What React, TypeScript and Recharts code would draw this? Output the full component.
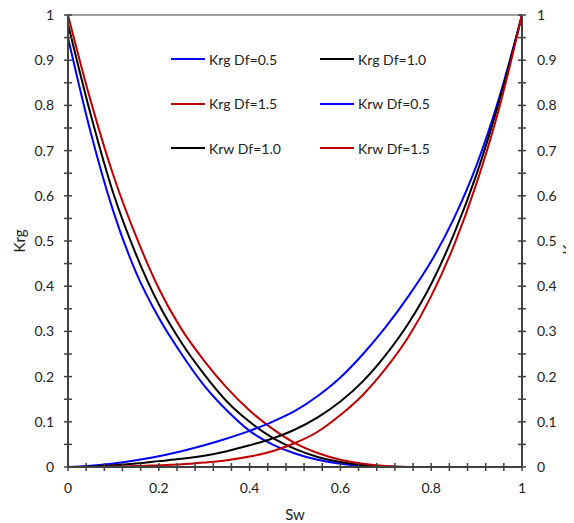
import React from "react";
import { LineChart, Line, XAxis, YAxis, Legend, ReferenceLine } from "recharts";

// Sw grid and relative permeability curves
const sw = [0, 0.05, 0.1, 0.15, 0.2, 0.25, 0.3, 0.35, 0.4, 0.45, 0.5, 0.55, 0.6, 0.65, 0.7, 0.75, 0.8, 0.85, 0.9, 0.95, 1];
const krgDf05 = [0.95, 0.74, 0.565, 0.43, 0.33, 0.25, 0.18, 0.125, 0.08, 0.05, 0.03, 0.016, 0.007, 0.002, 0, 0, 0, 0, 0, 0, 0];
const krgDf10 = [0.98, 0.78, 0.605, 0.47, 0.36, 0.275, 0.205, 0.145, 0.1, 0.065, 0.04, 0.022, 0.011, 0.004, 0.001, 0, 0, 0, 0, 0, 0];
const krgDf15 = [1.0, 0.81, 0.645, 0.51, 0.395, 0.305, 0.235, 0.175, 0.125, 0.085, 0.053, 0.031, 0.016, 0.007, 0.002, 0, 0, 0, 0, 0, 0];
const krwDf05 = [0, 0.003, 0.008, 0.015, 0.024, 0.035, 0.048, 0.063, 0.08, 0.1, 0.124, 0.157, 0.198, 0.25, 0.31, 0.378, 0.455, 0.55, 0.668, 0.818, 1];
const krwDf10 = [0, 0.001, 0.004, 0.008, 0.013, 0.018, 0.025, 0.035, 0.048, 0.063, 0.083, 0.11, 0.145, 0.19, 0.248, 0.318, 0.405, 0.515, 0.648, 0.81, 1];
const krwDf15 = [0, 0, 0.001, 0.002, 0.004, 0.006, 0.01, 0.015, 0.023, 0.035, 0.053, 0.078, 0.115, 0.16, 0.218, 0.288, 0.378, 0.49, 0.628, 0.795, 1];

const xTicks = [0, 0.04, 0.08, 0.12, 0.16, 0.2, 0.24, 0.28, 0.32, 0.36, 0.4, 0.44, 0.48, 0.52, 0.56, 0.6, 0.64, 0.68, 0.72, 0.76, 0.8, 0.84, 0.88, 0.92, 0.96, 1];
const xLabels = [0, 0.2, 0.4, 0.6, 0.8, 1];
const yTicks = [0, 0.05, 0.1, 0.15, 0.2, 0.25, 0.3, 0.35, 0.4, 0.45, 0.5, 0.55, 0.6, 0.65, 0.7, 0.75, 0.8, 0.85, 0.9, 0.95, 1];
const yLabels = [0, 0.1, 0.2, 0.3, 0.4, 0.5, 0.6, 0.7, 0.8, 0.9, 1];

const data = sw.map((s, i) => ({
  sw: s,
  krg05: krgDf05[i],
  krg10: krgDf10[i],
  krg15: krgDf15[i],
  krw05: krwDf05[i],
  krw10: krwDf10[i],
  krw15: krwDf15[i],
}));

const FONT = "Lato, 'Open Sans', sans-serif";
const AXIS = "#404040";
const TEXT = "#222";

const isLabel = (v: number, list: number[]) => list.some((l) => Math.abs(l - v) < 1e-6);

const XTick = ({ x, y, payload }: any) => {
  const v = payload.value;
  return (
    <g>
      <line x1={x} x2={x} y1={y - 4} y2={y + 4} stroke={AXIS} strokeWidth={1.5} />
      {isLabel(v, xLabels) && (
        <text x={x} y={y + 26} textAnchor="middle" fontSize={14} fill={TEXT} fontFamily={FONT}>
          {String(v)}
        </text>
      )}
    </g>
  );
};

const YTick = ({ x, y, payload, side }: any) => {
  const v = payload.value;
  const left = side === "left";
  return (
    <g>
      <line x1={x - 4} x2={x + 4} y1={y} y2={y} stroke={AXIS} strokeWidth={1.5} />
      {isLabel(v, yLabels) && (
        <text
          x={left ? x - 14 : x + 15}
          y={y + 5}
          textAnchor={left ? "end" : "start"}
          fontSize={14}
          fill={TEXT}
          fontFamily={FONT}
        >
          {String(v)}
        </text>
      )}
    </g>
  );
};

const LegendGrid = ({ payload }: any) => (
  <div
    style={{
      display: "grid",
      gridTemplateColumns: "149px 149px",
      fontFamily: FONT,
      fontSize: 14,
      color: TEXT,
    }}
  >
    {(payload || []).map((p: any) => (
      <div key={p.value} style={{ display: "flex", alignItems: "center", height: 44.5 }}>
        <span style={{ display: "inline-block", width: 34, height: 2, background: p.color, marginRight: 4 }} />
        <span>{p.value}</span>
      </div>
    ))}
  </div>
);

export default function App() {
  return (
    <div style={{ marginTop: -5 }}>
      <LineChart
        width={566}
        height={520}
        data={data}
        margin={{ top: 12, right: 0, bottom: 0, left: 0 }}
        style={{ fontFamily: FONT }}
      >
        <XAxis
          dataKey="sw"
          type="number"
          domain={[0, 1]}
          ticks={xTicks}
          interval={0}
          tickSize={0}
          tickMargin={0}
          tickLine={false}
          tick={<XTick />}
          height={56}
          axisLine={{ stroke: AXIS, strokeWidth: 2 }}
          label={{ value: "Sw", position: "insideBottom", offset: 3, fontSize: 15, fill: TEXT, fontFamily: FONT }}
        />
        <YAxis
          yAxisId="left"
          type="number"
          domain={[0, 1]}
          ticks={yTicks}
          interval={0}
          tickSize={0}
          tickMargin={0}
          tickLine={false}
          tick={<YTick side="left" />}
          width={60}
          axisLine={{ stroke: AXIS, strokeWidth: 2 }}
          label={{ value: "Krg", angle: -90, position: "center", dx: -18, fontSize: 15, fill: TEXT, fontFamily: FONT }}
        />
        <YAxis
          yAxisId="right"
          orientation="right"
          type="number"
          domain={[0, 1]}
          ticks={yTicks}
          interval={0}
          tickSize={0}
          tickMargin={0}
          tickLine={false}
          tick={<YTick side="right" />}
          width={52}
          axisLine={{ stroke: AXIS, strokeWidth: 2 }}
          label={{ value: "Krw", angle: -90, position: "center", dx: 21, fontSize: 15, fill: TEXT, fontFamily: FONT }}
        />
        <ReferenceLine yAxisId="left" y={1} stroke={AXIS} strokeWidth={1} />
        <Legend
          layout="horizontal"
          verticalAlign="middle"
          align="center"
          content={<LegendGrid />}
          wrapperStyle={{ position: "absolute", left: 163, top: 34, width: 300 }}
        />
        <Line yAxisId="left" dataKey="krg05" name="Krg Df=0.5" type="monotone" stroke="#0000FF" strokeWidth={2} dot={false} isAnimationActive={false} />
        <Line yAxisId="left" dataKey="krg10" name="Krg Df=1.0" type="monotone" stroke="#000000" strokeWidth={2} dot={false} isAnimationActive={false} />
        <Line yAxisId="left" dataKey="krg15" name="Krg Df=1.5" type="monotone" stroke="#C00000" strokeWidth={2} dot={false} isAnimationActive={false} />
        <Line yAxisId="right" dataKey="krw05" name="Krw Df=0.5" type="monotone" stroke="#0000FF" strokeWidth={2} dot={false} isAnimationActive={false} />
        <Line yAxisId="right" dataKey="krw10" name="Krw Df=1.0" type="monotone" stroke="#000000" strokeWidth={2} dot={false} isAnimationActive={false} />
        <Line yAxisId="right" dataKey="krw15" name="Krw Df=1.5" type="monotone" stroke="#C00000" strokeWidth={2} dot={false} isAnimationActive={false} />
      </LineChart>
    </div>
  );
}
